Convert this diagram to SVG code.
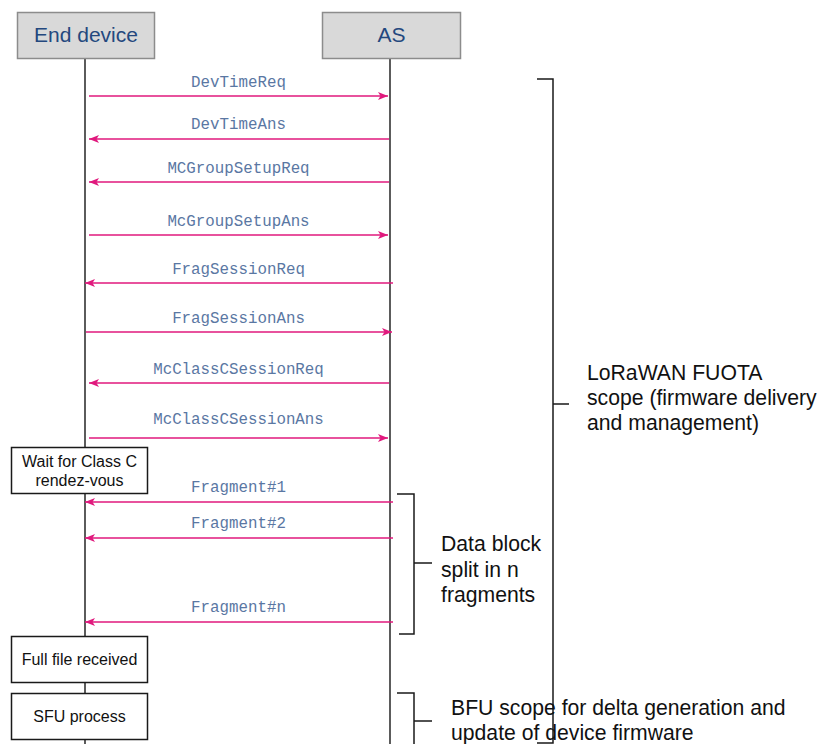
<svg xmlns="http://www.w3.org/2000/svg" width="827" height="744" viewBox="0 0 827 744">
  <style>
    .hdr { fill: #d9d9d9; stroke: #8c8c8c; stroke-width: 1.5; }
    .hdr-t { font-family: "Liberation Sans", Arial, sans-serif; font-size: 21px; fill: #24487e; text-anchor: middle; }
    .life { stroke: #333333; stroke-width: 1.6; fill: none; }
    .msg { stroke: #e0197d; stroke-width: 1.6; fill: none; marker-end: url(#arr); }
    .msg-t { font-family: "Liberation Mono", "Courier New", monospace; font-size: 15.8px; fill: #5a77a3; text-anchor: middle; }
    .box { fill: #ffffff; stroke: #1a1a1a; stroke-width: 1.5; }
    .box-t { font-family: "Liberation Sans", Arial, sans-serif; font-size: 16px; fill: #111111; text-anchor: middle; }
    .brk { stroke: #1a1a1a; stroke-width: 1.5; fill: none; }
    .note { font-family: "Liberation Sans", Arial, sans-serif; font-size: 21.2px; fill: #111111; }
  </style>
  <defs>
    <marker id="arr" viewBox="0 0 10 8" refX="10" refY="4" markerWidth="10" markerHeight="8" markerUnits="userSpaceOnUse" orient="auto">
      <path d="M0,0 L10,4 L0,8 L2.5,4 Z" fill="#e0197d"/>
    </marker>
  </defs>

  <rect width="827" height="744" fill="#ffffff"/>

  <!-- lifelines -->
  <g id="lifelines">
    <line class="life" x1="85" y1="59" x2="85" y2="744"/>
    <line class="life" x1="390" y1="59" x2="390" y2="744" stroke="#555555"/>
  </g>

  <!-- participants -->
  <g id="end-device">
    <rect class="hdr" x="17.5" y="12.5" width="137" height="46"/>
    <text class="hdr-t" x="86" y="42">End device</text>
  </g>
  <g id="as">
    <rect class="hdr" x="322.5" y="12.5" width="138" height="46"/>
    <text class="hdr-t" x="391.5" y="42">AS</text>
  </g>

  <!-- messages -->
  <g id="connectors">
    <line class="msg" x1="89" y1="96" x2="388" y2="96"/>
    <text class="msg-t" x="238.5" y="87">DevTimeReq</text>

    <line class="msg" x1="389" y1="139" x2="89" y2="139"/>
    <text class="msg-t" x="238.5" y="129">DevTimeAns</text>

    <line class="msg" x1="389" y1="182" x2="89" y2="182"/>
    <text class="msg-t" x="238.5" y="173">MCGroupSetupReq</text>

    <line class="msg" x1="89" y1="235" x2="388" y2="235"/>
    <text class="msg-t" x="238.5" y="226">McGroupSetupAns</text>

    <line class="msg" x1="393" y1="283" x2="85" y2="283"/>
    <text class="msg-t" x="238.5" y="274">FragSessionReq</text>

    <line class="msg" x1="86" y1="332" x2="392" y2="332"/>
    <text class="msg-t" x="238.5" y="323">FragSessionAns</text>

    <line class="msg" x1="389" y1="383" x2="89" y2="383"/>
    <text class="msg-t" x="238.5" y="374">McClassCSessionReq</text>

    <line class="msg" x1="89" y1="438" x2="388" y2="438"/>
    <text class="msg-t" x="238.5" y="424">McClassCSessionAns</text>

    <line class="msg" x1="393" y1="502" x2="85" y2="502"/>
    <text class="msg-t" x="238.5" y="492">Fragment#1</text>

    <line class="msg" x1="393" y1="538" x2="85" y2="538"/>
    <text class="msg-t" x="238.5" y="528">Fragment#2</text>

    <line class="msg" x1="393" y1="622" x2="85" y2="622"/>
    <text class="msg-t" x="238.5" y="612">Fragment#n</text>
  </g>

  <!-- end device states -->
  <g id="wait-class-c">
    <rect class="box" x="11.5" y="447.5" width="136" height="46"/>
    <text class="box-t" x="79.5" y="467">Wait for Class C</text>
    <text class="box-t" x="79.5" y="486">rendez-vous</text>
  </g>
  <g id="full-file">
    <rect class="box" x="11.5" y="636.5" width="136" height="46"/>
    <text class="box-t" x="79.5" y="665">Full file received</text>
  </g>
  <g id="sfu-process">
    <rect class="box" x="11.5" y="693.5" width="136" height="46"/>
    <text class="box-t" x="79.5" y="722">SFU process</text>
  </g>

  <!-- scope brackets -->
  <g id="fuota-scope">
    <path class="brk" d="M537,79 H553 V743 H537 M553,404 H569"/>
    <text class="note" x="587" y="380">LoRaWAN FUOTA</text>
    <text class="note" x="587" y="405">scope (firmware delivery</text>
    <text class="note" x="587" y="430">and management)</text>
  </g>
  <g id="data-block-scope">
    <path class="brk" d="M397,494 H414 V634 H399 M414,563 H432"/>
    <text class="note" x="441" y="551">Data block</text>
    <text class="note" x="441" y="577">split in n</text>
    <text class="note" x="441" y="602">fragments</text>
  </g>
  <g id="bfu-scope">
    <path class="brk" d="M397,693 H414 V744 M414,721 H432"/>
    <text class="note" x="451" y="715">BFU scope for delta generation and</text>
    <text class="note" x="451" y="740">update of device firmware</text>
  </g>
</svg>
